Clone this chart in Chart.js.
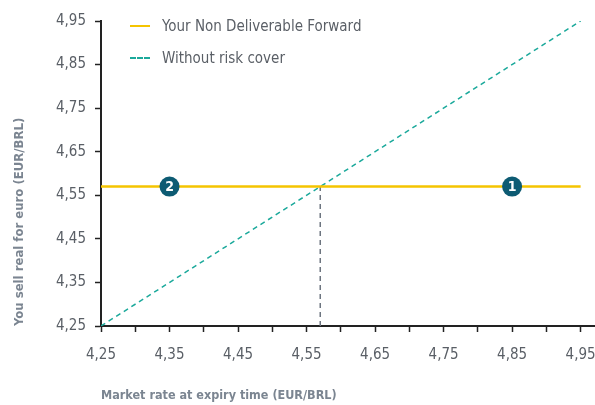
<!DOCTYPE html>
<html lang="en">
<head>
<meta charset="UTF-8">
<title>Non Deliverable Forward</title>
<script src="https://cdn.jsdelivr.net/npm/chart.js@4"></script>
<style>
    body { margin: 0; background: #fff; }
    .wrap { position: relative; width: 595px; height: 405px; }
    .legend {
        position: absolute; left: 130px; top: 14px;
        font-family: "Liberation Sans Narrow", "DejaVu Sans Condensed", sans-serif;
        font-size: 15px; color: #5a5f66;
    }
    .legend div { display: flex; align-items: center; }
    .legend span.sw { display: inline-block; width: 20px; margin-right: 12px; }
</style>
</head>
<body>
<div class="wrap">
    <canvas id="ndfChart" width="595" height="405"></canvas>
    <div class="legend">
        <div style="height:24px"><span class="sw" style="border-top:2px solid #f5c400"></span>Your Non Deliverable Forward</div>
        <div style="height:40px"><span class="sw" style="border-top:2px dashed #1ba99b"></span>Without risk cover</div>
    </div>
</div>

<script>
    // data
    const forwardRate = 4.57;
    const ndfX = [4.25, 4.95];
    const ndfY = [forwardRate, forwardRate];
    const noCoverX = [4.25, 4.95];
    const noCoverY = [4.25, 4.95];
    const breakEvenX = [forwardRate, forwardRate];
    const breakEvenY = [4.25, forwardRate];
    const markerX = [4.85, 4.35];
    const markerY = [forwardRate, forwardRate];
    const markerLabels = ['1', '2'];

    const xTicks = [4.25, 4.30, 4.35, 4.40, 4.45, 4.50, 4.55, 4.60, 4.65, 4.70, 4.75, 4.80, 4.85, 4.90, 4.95];
    const xLabels = [4.25, 4.35, 4.45, 4.55, 4.65, 4.75, 4.85, 4.95];
    const yTicks = [4.25, 4.35, 4.45, 4.55, 4.65, 4.75, 4.85, 4.95];

    const pts = (xs, ys) => xs.map((x, i) => ({ x: x, y: ys[i] }));
    const fmt = v => v.toFixed(2).replace('.', ',');
    const font = "'Liberation Sans Narrow', 'DejaVu Sans Condensed', sans-serif";

    const markerText = {
        id: 'markerText',
        afterDatasetsDraw(chart) {
            const ctx = chart.ctx;
            const meta = chart.getDatasetMeta(0);
            ctx.save();
            ctx.fillStyle = '#fff';
            ctx.font = 'bold 14px ' + font;
            ctx.textAlign = 'center';
            ctx.textBaseline = 'middle';
            meta.data.forEach((el, i) => ctx.fillText(markerLabels[i], el.x, el.y + 1));
            ctx.restore();
        }
    };

    new Chart(document.getElementById('ndfChart'), {
        type: 'scatter',
        data: {
            datasets: [
                {
                    data: pts(markerX, markerY),
                    backgroundColor: '#0d5b73',
                    borderWidth: 0,
                    pointRadius: 10,
                    pointHoverRadius: 10
                },
                {
                    data: pts(ndfX, ndfY),
                    showLine: true,
                    borderColor: '#f5c400',
                    borderWidth: 2.5,
                    pointRadius: 0
                },
                {
                    data: pts(noCoverX, noCoverY),
                    showLine: true,
                    borderColor: '#1ba99b',
                    borderWidth: 1.5,
                    borderDash: [5, 4],
                    pointRadius: 0
                },
                {
                    data: pts(breakEvenX, breakEvenY),
                    showLine: true,
                    borderColor: '#6d7580',
                    borderWidth: 1.5,
                    borderDash: [5, 4],
                    pointRadius: 0
                }
            ]
        },
        options: {
            responsive: false,
            animation: false,
            layout: { autoPadding: false, padding: { top: 21, right: 0, left: 0, bottom: 0 } },
            plugins: { legend: { display: false }, tooltip: { enabled: false } },
            scales: {
                x: {
                    type: 'linear',
                    min: 4.25,
                    max: 4.971,
                    afterBuildTicks: axis => { axis.ticks = xTicks.map(v => ({ value: v })); },
                    afterFit: axis => { axis.height = 79; axis.paddingRight = 0; axis.paddingLeft = 0; },
                    grid: { drawOnChartArea: false, drawTicks: true, tickLength: 6, color: '#222', tickWidth: 1.5 },
                    border: { display: true, color: '#222', width: 2 },
                    ticks: {
                        autoSkip: false,
                        maxRotation: 0,
                        padding: 14,
                        color: '#5a5f66',
                        font: { family: font, size: 15 },
                        callback: v => xLabels.some(l => Math.abs(l - v) < 1e-6) ? fmt(v) : ''
                    },
                    title: {
                        display: true,
                        align: 'start',
                        text: 'Market rate at expiry time (EUR/BRL)',
                        color: '#7b8591',
                        font: { family: font, size: 12.5, weight: 'bold' },
                        padding: { top: 14, bottom: 2 }
                    }
                },
                y: {
                    type: 'linear',
                    min: 4.25,
                    max: 4.95,
                    afterBuildTicks: axis => { axis.ticks = yTicks.map(v => ({ value: v })); },
                    afterFit: axis => { axis.width = 101; },
                    grid: { drawOnChartArea: false, drawTicks: true, tickLength: 6, color: '#222', tickWidth: 1.5 },
                    border: { display: true, color: '#222', width: 2 },
                    ticks: {
                        autoSkip: false,
                        padding: 9,
                        color: '#5a5f66',
                        font: { family: font, size: 15 },
                        callback: v => fmt(v)
                    },
                    title: {
                        display: true,
                        align: 'start',
                        text: 'You sell real for euro (EUR/BRL)',
                        color: '#7b8591',
                        font: { family: font, size: 13, weight: 'bold' },
                        padding: { top: 12, bottom: 20 }
                    }
                }
            }
        },
        plugins: [markerText]
    });
</script>
</body>
</html>
